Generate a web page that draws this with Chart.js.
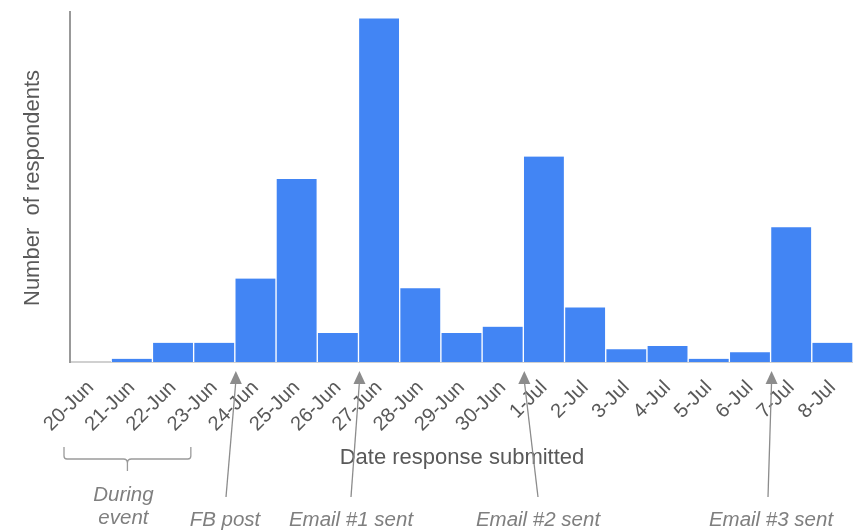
<!DOCTYPE html>
<html>
<head>
<meta charset="utf-8">
<script src="https://cdn.jsdelivr.net/npm/chart.js@4/dist/chart.umd.min.js"></script>
<style>
  html, body { margin: 0; padding: 0; background: #fff; overflow: hidden; }
  #wrap { width: 853px; height: 530px; }
</style>
</head>
<body>
<div id="wrap"><canvas id="respChart"></canvas></div>
<script>
// Responses per day (no y scale shown)
const dates = ['20-Jun', '21-Jun', '22-Jun', '23-Jun', '24-Jun', '25-Jun', '26-Jun', '27-Jun', '28-Jun', '29-Jun',
               '30-Jun', '1-Jul', '2-Jul', '3-Jul', '4-Jul', '5-Jul', '6-Jul', '7-Jul', '8-Jul'];
const respondents = [0, 1, 6, 6, 26, 57, 9, 107, 23, 9, 11, 64, 17, 4, 5, 1, 3, 42, 6];

// Annotated events: index of the day the arrow points at (left edge of that bar)
const eventDays = ['24-Jun', '27-Jun', '1-Jul', '7-Jul'];
const eventLabels = ['FB post', 'Email #1 sent', 'Email #2 sent', 'Email #3 sent'];
const eventTextX = [225, 351, 538, 771];
const eventTailX = [226, 351, 538, 768];
const duringEventDays = ['20-Jun', '23-Jun'];

const fontFamily = '"Liberation Sans", Arial, sans-serif';

const annotations = {
    id: 'annotations',
    afterDraw(chart) {
        const ctx = chart.ctx;
        const x = chart.scales.x;
        const area = chart.chartArea;
        const half = (x.getPixelForValue(1) - x.getPixelForValue(0)) / 2;
        ctx.save();

        // axis titles
        ctx.fillStyle = '#595959';
        ctx.font = '22px ' + fontFamily;
        ctx.textAlign = 'center';
        ctx.textBaseline = 'middle';
        ctx.fillText('Date response submitted', 462, 458);
        ctx.save();
        ctx.translate(33, 188);
        ctx.rotate(-Math.PI / 2);
        ctx.fillText('Number  of respondents', 0, 0);
        ctx.restore();

        // arrows for each event
        ctx.strokeStyle = '#8c8c8c';
        ctx.fillStyle = '#8c8c8c';
        ctx.lineWidth = 1.3;
        eventDays.forEach((d, i) => {
            const tipX = x.getPixelForValue(dates.indexOf(d)) - half + 1;
            const tipY = area.bottom + 9;
            ctx.beginPath();
            ctx.moveTo(eventTailX[i], 497);
            ctx.lineTo(tipX, tipY + 10);
            ctx.stroke();
            ctx.beginPath();
            ctx.moveTo(tipX, tipY);
            ctx.lineTo(tipX - 6, tipY + 13);
            ctx.lineTo(tipX + 6, tipY + 13);
            ctx.closePath();
            ctx.fill();
        });

        // brace under the event days
        const bl = x.getPixelForValue(dates.indexOf(duringEventDays[0])) - half - 6;
        const br = x.getPixelForValue(dates.indexOf(duringEventDays[1])) + half - 44;
        const bm = (bl + br) / 2;
        ctx.strokeStyle = '#9a9a9a';
        ctx.lineWidth = 1.3;
        ctx.beginPath();
        ctx.moveTo(bl, 447);
        ctx.lineTo(bl, 456);
        ctx.quadraticCurveTo(bl, 459, bl + 3, 459);
        ctx.lineTo(bm - 4, 459);
        ctx.quadraticCurveTo(bm, 459, bm, 463);
        ctx.lineTo(bm, 471);
        ctx.moveTo(bm, 463);
        ctx.quadraticCurveTo(bm, 459, bm + 4, 459);
        ctx.lineTo(br - 3, 459);
        ctx.quadraticCurveTo(br, 459, br, 456);
        ctx.lineTo(br, 447);
        ctx.stroke();

        // annotation labels
        ctx.fillStyle = '#7f7f7f';
        ctx.font = 'italic 20.5px ' + fontFamily;
        ctx.textBaseline = 'alphabetic';
        ctx.fillText('During', bm - 4, 501);
        ctx.fillText('event', bm - 4, 524);
        eventLabels.forEach((t, i) => ctx.fillText(t, eventTextX[i], 526));

        ctx.restore();
    }
};

new Chart(document.getElementById('respChart'), {
    type: 'bar',
    data: {
        labels: dates,
        datasets: [{
            data: respondents,
            backgroundColor: '#4285f4',
            borderColor: '#ffffff',
            borderWidth: { left: 1, right: 1, top: 0, bottom: 0 },
            borderSkipped: false,
            barPercentage: 1,
            categoryPercentage: 1
        }]
    },
    options: {
        responsive: true,
        maintainAspectRatio: false,
        animation: false,
        layout: { padding: { top: 12, right: 0, left: 0, bottom: 0 } },
        plugins: {
            legend: { display: false },
            tooltip: { enabled: false }
        },
        scales: {
            x: {
                grid: { display: false, drawTicks: false },
                border: { color: '#d0d0d0', width: 2 },
                ticks: {
                    color: '#595959',
                    font: { family: fontFamily, size: 20 },
                    minRotation: 45,
                    maxRotation: 45,
                    padding: 14,
                    autoSkip: false
                },
                afterFit(scale) {
                    scale.height = 168;
                    scale.paddingLeft = 0;
                    scale.paddingRight = 0;
                }
            },
            y: {
                min: 0,
                max: 109,
                grid: { display: false, drawTicks: false },
                border: { color: '#999999', width: 2 },
                ticks: { display: false },
                afterFit(scale) { scale.width = 70; }
            }
        }
    },
    plugins: [annotations]
});
</script>
</body>
</html>
